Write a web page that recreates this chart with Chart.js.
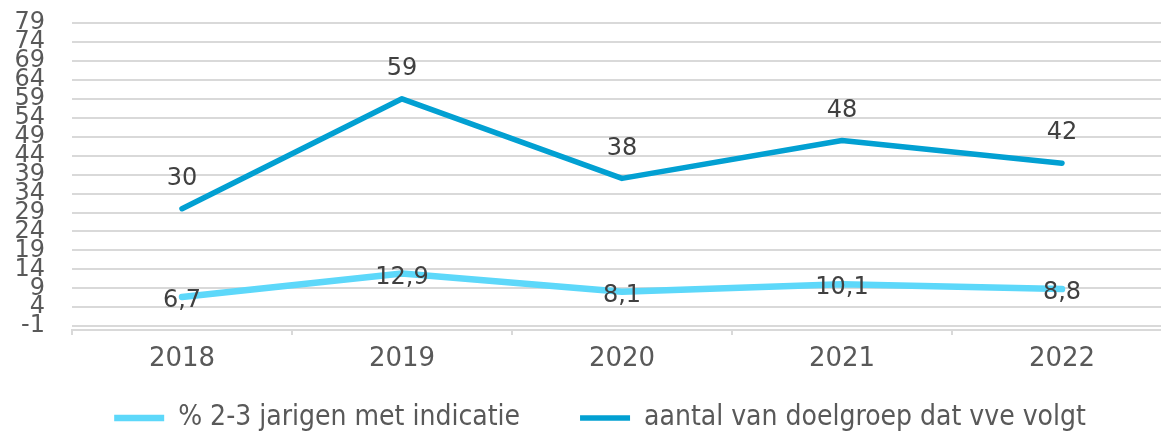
<!DOCTYPE html>
<html>
<head>
<meta charset="utf-8">
<script src="https://cdn.jsdelivr.net/npm/chart.js@4/dist/chart.umd.min.js"></script>
<style>
  html, body { margin: 0; padding: 0; background: #fff; overflow: hidden; }
  #wrap { width: 1172px; height: 432px; position: relative; }
</style>
</head>
<body>
<div id="wrap"><canvas id="c"></canvas></div>
<script>
const categories = ['2018', '2019', '2020', '2021', '2022'];
const pctIndicatie = [6.7, 12.9, 8.1, 10.1, 8.8];
const aantalVve = [30, 59, 38, 48, 42];
const yTicks = [-1, 4, 9, 14, 19, 24, 29, 34, 39, 44, 49, 54, 59, 64, 69, 74, 79];
const seriesNames = ['% 2-3 jarigen met indicatie', 'aantal van doelgroep dat vve volgt'];

const fmt = v => String(v).replace('.', ',');

const dataLabels = {
  id: 'dataLabels',
  afterDatasetsDraw(chart) {
    const ctx = chart.ctx;
    ctx.save();
    ctx.font = '24px "DejaVu Sans"';
    ctx.fillStyle = '#404040';
    ctx.textAlign = 'center';
    ctx.textBaseline = 'middle';
    chart.data.datasets.forEach((ds, i) => {
      const meta = chart.getDatasetMeta(i);
      const off = i === 1 ? -30 : 4;
      meta.data.forEach((pt, j) => {
        ctx.fillText(fmt(ds.data[j]), pt.x, pt.y + off);
      });
    });
    ctx.restore();
  }
};

// nudge legend box position after layout (legend row placement)
const legendShift = {
  id: 'legendShift',
  afterLayout(chart) {
    const lg = chart.legend;
    if (!lg) return;
    lg.left += 14;
    lg.right += 14;
    lg.top = 344;
    lg.bottom = 432;
  }
};

new Chart(document.getElementById('c'), {
  type: 'line',
  data: {
    labels: categories,
    datasets: [
      {
        label: seriesNames[0],
        data: pctIndicatie,
        borderColor: '#5DD8FA',
        backgroundColor: '#5DD8FA',
        borderWidth: 6.5,
        borderCapStyle: 'round',
        borderJoinStyle: 'round',
        pointRadius: 0,
        tension: 0
      },
      {
        label: seriesNames[1],
        data: aantalVve,
        borderColor: '#02A0D2',
        backgroundColor: '#02A0D2',
        borderWidth: 5.5,
        borderCapStyle: 'round',
        borderJoinStyle: 'round',
        pointRadius: 0,
        tension: 0
      }
    ]
  },
  options: {
    responsive: true,
    maintainAspectRatio: false,
    animation: false,
    layout: { padding: { top: 23, left: 0, right: 0, bottom: 0 } },
    plugins: {
      tooltip: { enabled: false },
      legend: {
        position: 'bottom',
        maxHeight: 54,
        labels: {
          usePointStyle: true,
          pointStyle: 'line',
          pointStyleWidth: 50,
          boxHeight: 6,
          padding: 60,
          color: '#595959',
          font: { family: '"DejaVu Sans Condensed", "DejaVu Sans"', size: 28 }
        }
      }
    },
    scales: {
      x: {
        offset: true,
        grid: {
          display: true,
          drawOnChartArea: false,
          drawTicks: true,
          tickLength: 5,
          offset: true,
          color: '#D9D9D9',
          lineWidth: 2
        },
        border: { display: true, color: '#D9D9D9', width: 2 },
        ticks: {
          color: '#595959',
          font: { family: '"DejaVu Sans"', size: 26 },
          padding: 9,
          maxRotation: 0
        },
        afterFit(scale) { scale.height = 48; }
      },
      y: {
        min: -2,
        max: 79,
        afterBuildTicks(scale) { scale.ticks = yTicks.map(v => ({ value: v })); },
        grid: {
          color: '#D9D9D9',
          lineWidth: 2,
          drawTicks: true,
          tickLength: 27,
          tickColor: 'rgba(0,0,0,0)'
        },
        border: { display: false },
        ticks: {
          color: '#595959',
          font: { family: '"DejaVu Sans"', size: 24 },
          padding: 0,
          autoSkip: false
        },
        afterFit(scale) { scale.width = 72; }
      }
    }
  },
  plugins: [dataLabels, legendShift]
});
</script>
</body>
</html>
